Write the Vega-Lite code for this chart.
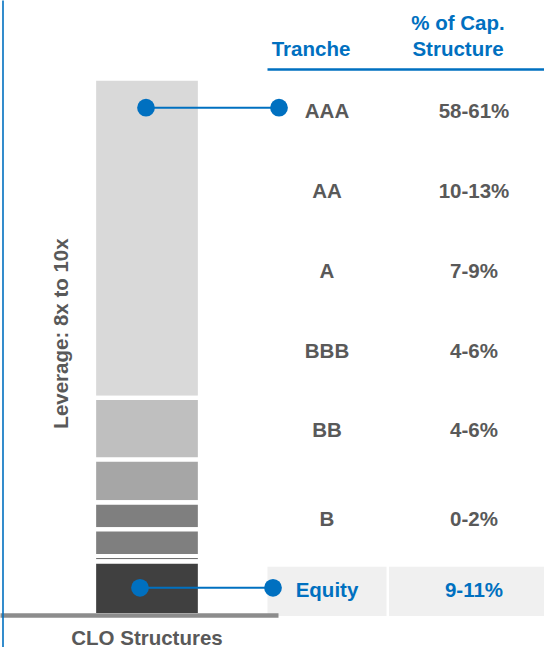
{
  "$schema": "https://vega.github.io/schema/vega-lite/v6.json",
  "width": 544,
  "height": 647,
  "autosize": {"type": "none"},
  "padding": 0,
  "background": "white",
  "config": {"view": {"stroke": null}, "font": "Liberation Sans"},
  "datasets": {
    "tranches": [
      {"tranche": "AAA", "range": "58-61%", "mid": 59.5, "seniority": 1},
      {"tranche": "AA", "range": "10-13%", "mid": 11.5, "seniority": 2},
      {"tranche": "A", "range": "7-9%", "mid": 8, "seniority": 3},
      {"tranche": "BBB", "range": "4-6%", "mid": 5, "seniority": 4},
      {"tranche": "BB", "range": "4-6%", "mid": 5, "seniority": 5},
      {"tranche": "B", "range": "0-2%", "mid": 1, "seniority": 6},
      {"tranche": "Equity", "range": "9-11%", "mid": 10, "seniority": 7}
    ],
    "connectors": [
      {"tranche": "AAA", "end": "segment"},
      {"tranche": "AAA", "end": "label"},
      {"tranche": "Equity", "end": "segment"},
      {"tranche": "Equity", "end": "label"}
    ]
  },
  "layer": [
    {
      "data": {"name": "tranches"},
      "mark": {"type": "bar", "stroke": "white", "strokeWidth": 4.3},
      "encoding": {
        "x": {
          "datum": "CLO Structures", "type": "nominal",
          "scale": {"type": "band", "domain": ["CLO Structures"], "range": [0, 278], "paddingInner": 0, "paddingOuter": 0.8113, "align": 0.5465},
          "axis": {"orient": "bottom", "offset": -32, "title": null, "ticks": false, "tickSize": 0, "domain": true, "domainColor": "#8c8c8c", "domainWidth": 4.3, "domainCap": "butt", "labelPadding": 13, "labelFont": "Liberation Sans", "labelFontSize": 20.5, "labelFontWeight": "bold", "labelColor": "#595959", "labelAngle": 0, "labelLimit": 400, "zindex": 1}
        },
        "y": {
          "field": "mid", "type": "quantitative", "stack": "zero",
          "scale": {"domain": [-5.93, 114.63], "nice": false, "zero": false},
          "axis": {"orient": "left", "offset": -2.5, "grid": false, "ticks": false, "labels": false, "domain": true, "domainColor": "#0070C0", "domainWidth": 1.6, "title": "Leverage: 8x to 10x", "titleFont": "Liberation Sans", "titleFontSize": 20.5, "titleFontWeight": "bold", "titleColor": "#595959", "titleAngle": 270, "titleBaseline": "middle", "titleAlign": "center", "titleX": 59.4, "titleY": 333, "zindex": 1}
        },
        "color": {
          "field": "tranche", "type": "nominal",
          "scale": {"domain": ["AAA", "AA", "A", "BBB", "BB", "B", "Equity"], "range": ["#d9d9d9", "#bfbfbf", "#a6a6a6", "#7f7f7f", "#7f7f7f", "#404040", "#404040"]},
          "legend": null
        },
        "order": {"field": "seniority", "sort": "descending"}
      }
    },
    {
      "data": {"name": "tranches"},
      "layer": [
        {
          "transform": [{"filter": "datum.tranche === 'Equity'"}],
          "mark": {"type": "rect", "color": "#f0f0f0", "width": 119},
          "encoding": {
            "x": {"datum": "Tranche", "type": "nominal",
              "scale": {"type": "band", "domain": ["Tranche", "% of Cap. Structure"], "range": [267, 560], "paddingInner": 0.5, "paddingOuter": 0.2466, "align": 0.3207},
              "axis": {"orient": "top", "offset": -69, "title": null, "ticks": false, "tickSize": 0, "domain": true, "domainColor": "#0070C0", "domainWidth": 2.3, "labelPadding": 35.5, "labelOffset": -16, "labelFont": "Liberation Sans", "labelFontSize": 20.5, "labelFontWeight": "bold", "labelColor": "#0070C0", "labelAngle": 0, "labelLimit": 400, "labelLineHeight": 25.5, "labelOverlap": false, "labelFlush": false, "labelExpr": "datum.value === '% of Cap. Structure' ? ['% of Cap.', 'Structure'] : ['', datum.value]", "zindex": 1}},
            "y": {"field": "tranche", "type": "nominal",
              "scale": {"type": "band", "domain": ["AAA", "AA", "A", "BBB", "BB", "B", "Equity"], "range": [87, 616], "paddingInner": 0.3836, "paddingOuter": 0},
              "axis": null}
          }
        },
        {
          "transform": [{"filter": "datum.tranche === 'Equity'"}],
          "mark": {"type": "rect", "color": "#f0f0f0", "width": 170},
          "encoding": {
            "x": {"datum": "% of Cap. Structure", "type": "nominal",
              "scale": {"type": "band", "domain": ["Tranche", "% of Cap. Structure"], "range": [267, 560], "paddingInner": 0.5, "paddingOuter": 0.2466, "align": 0.3207},
              "axis": {"orient": "top", "offset": -69, "title": null, "ticks": false, "tickSize": 0, "domain": true, "domainColor": "#0070C0", "domainWidth": 2.3, "labelPadding": 35.5, "labelOffset": -16, "labelFont": "Liberation Sans", "labelFontSize": 20.5, "labelFontWeight": "bold", "labelColor": "#0070C0", "labelAngle": 0, "labelLimit": 400, "labelLineHeight": 25.5, "labelOverlap": false, "labelFlush": false, "labelExpr": "datum.value === '% of Cap. Structure' ? ['% of Cap.', 'Structure'] : ['', datum.value]", "zindex": 1}},
            "y": {"field": "tranche", "type": "nominal",
              "scale": {"type": "band", "domain": ["AAA", "AA", "A", "BBB", "BB", "B", "Equity"], "range": [87, 616], "paddingInner": 0.3836, "paddingOuter": 0},
              "axis": null}
          }
        },
        {
          "transform": [{"filter": "datum.tranche !== 'B'"}],
          "mark": {"type": "text", "font": "Liberation Sans", "fontSize": 20.5, "fontWeight": "bold", "baseline": "middle", "align": "center"},
          "encoding": {
            "x": {"datum": "Tranche", "type": "nominal",
              "scale": {"type": "band", "domain": ["Tranche", "% of Cap. Structure"], "range": [267, 560], "paddingInner": 0.5, "paddingOuter": 0.2466, "align": 0.3207},
              "axis": {"orient": "top", "offset": -69, "title": null, "ticks": false, "tickSize": 0, "domain": true, "domainColor": "#0070C0", "domainWidth": 2.3, "labelPadding": 35.5, "labelOffset": -16, "labelFont": "Liberation Sans", "labelFontSize": 20.5, "labelFontWeight": "bold", "labelColor": "#0070C0", "labelAngle": 0, "labelLimit": 400, "labelLineHeight": 25.5, "labelOverlap": false, "labelFlush": false, "labelExpr": "datum.value === '% of Cap. Structure' ? ['% of Cap.', 'Structure'] : ['', datum.value]", "zindex": 1}},
            "y": {"field": "tranche", "type": "nominal", "bandPosition": 0.5,
              "scale": {"type": "band", "domain": ["AAA", "AA", "A", "BBB", "BB", "B", "Equity"], "range": [87, 616], "paddingInner": 0.3836, "paddingOuter": 0},
              "axis": null},
            "text": {"field": "tranche"},
            "color": {"condition": {"test": "datum.tranche === 'Equity'", "value": "#0070C0"}, "value": "#595959"}
          }
        },
        {
          "transform": [{"filter": "datum.tranche === 'B'"}],
          "mark": {"type": "text", "font": "Liberation Sans", "fontSize": 20.5, "fontWeight": "bold", "baseline": "middle", "align": "center", "dy": 9},
          "encoding": {
            "x": {"datum": "Tranche", "type": "nominal",
              "scale": {"type": "band", "domain": ["Tranche", "% of Cap. Structure"], "range": [267, 560], "paddingInner": 0.5, "paddingOuter": 0.2466, "align": 0.3207},
              "axis": {"orient": "top", "offset": -69, "title": null, "ticks": false, "tickSize": 0, "domain": true, "domainColor": "#0070C0", "domainWidth": 2.3, "labelPadding": 35.5, "labelOffset": -16, "labelFont": "Liberation Sans", "labelFontSize": 20.5, "labelFontWeight": "bold", "labelColor": "#0070C0", "labelAngle": 0, "labelLimit": 400, "labelLineHeight": 25.5, "labelOverlap": false, "labelFlush": false, "labelExpr": "datum.value === '% of Cap. Structure' ? ['% of Cap.', 'Structure'] : ['', datum.value]", "zindex": 1}},
            "y": {"field": "tranche", "type": "nominal", "bandPosition": 0.5,
              "scale": {"type": "band", "domain": ["AAA", "AA", "A", "BBB", "BB", "B", "Equity"], "range": [87, 616], "paddingInner": 0.3836, "paddingOuter": 0},
              "axis": null},
            "text": {"field": "tranche"},
            "color": {"value": "#595959"}
          }
        },
        {
          "transform": [{"filter": "datum.tranche !== 'B'"}],
          "mark": {"type": "text", "font": "Liberation Sans", "fontSize": 20.5, "fontWeight": "bold", "baseline": "middle", "align": "center"},
          "encoding": {
            "x": {"datum": "% of Cap. Structure", "type": "nominal",
              "scale": {"type": "band", "domain": ["Tranche", "% of Cap. Structure"], "range": [267, 560], "paddingInner": 0.5, "paddingOuter": 0.2466, "align": 0.3207},
              "axis": {"orient": "top", "offset": -69, "title": null, "ticks": false, "tickSize": 0, "domain": true, "domainColor": "#0070C0", "domainWidth": 2.3, "labelPadding": 35.5, "labelOffset": -16, "labelFont": "Liberation Sans", "labelFontSize": 20.5, "labelFontWeight": "bold", "labelColor": "#0070C0", "labelAngle": 0, "labelLimit": 400, "labelLineHeight": 25.5, "labelOverlap": false, "labelFlush": false, "labelExpr": "datum.value === '% of Cap. Structure' ? ['% of Cap.', 'Structure'] : ['', datum.value]", "zindex": 1}},
            "y": {"field": "tranche", "type": "nominal", "bandPosition": 0.5,
              "scale": {"type": "band", "domain": ["AAA", "AA", "A", "BBB", "BB", "B", "Equity"], "range": [87, 616], "paddingInner": 0.3836, "paddingOuter": 0},
              "axis": null},
            "text": {"field": "range"},
            "color": {"condition": {"test": "datum.tranche === 'Equity'", "value": "#0070C0"}, "value": "#595959"}
          }
        },
        {
          "transform": [{"filter": "datum.tranche === 'B'"}],
          "mark": {"type": "text", "font": "Liberation Sans", "fontSize": 20.5, "fontWeight": "bold", "baseline": "middle", "align": "center", "dy": 9},
          "encoding": {
            "x": {"datum": "% of Cap. Structure", "type": "nominal",
              "scale": {"type": "band", "domain": ["Tranche", "% of Cap. Structure"], "range": [267, 560], "paddingInner": 0.5, "paddingOuter": 0.2466, "align": 0.3207},
              "axis": {"orient": "top", "offset": -69, "title": null, "ticks": false, "tickSize": 0, "domain": true, "domainColor": "#0070C0", "domainWidth": 2.3, "labelPadding": 35.5, "labelOffset": -16, "labelFont": "Liberation Sans", "labelFontSize": 20.5, "labelFontWeight": "bold", "labelColor": "#0070C0", "labelAngle": 0, "labelLimit": 400, "labelLineHeight": 25.5, "labelOverlap": false, "labelFlush": false, "labelExpr": "datum.value === '% of Cap. Structure' ? ['% of Cap.', 'Structure'] : ['', datum.value]", "zindex": 1}},
            "y": {"field": "tranche", "type": "nominal", "bandPosition": 0.5,
              "scale": {"type": "band", "domain": ["AAA", "AA", "A", "BBB", "BB", "B", "Equity"], "range": [87, 616], "paddingInner": 0.3836, "paddingOuter": 0},
              "axis": null},
            "text": {"field": "range"},
            "color": {"value": "#595959"}
          }
        }
      ]
    },
    {
      "data": {"name": "connectors"},
      "encoding": {
        "x": {"field": "end", "type": "nominal", "scale": {"type": "point", "domain": ["segment", "label"], "range": [146, 279], "padding": 0}, "axis": null},
        "y": {"field": "tranche", "type": "nominal", "bandPosition": 0.5,
          "scale": {"type": "band", "domain": ["AAA", "AA", "A", "BBB", "BB", "B", "Equity"], "range": [87, 616], "paddingInner": 0.3836, "paddingOuter": 0},
          "axis": null}
      },
      "layer": [
        {"transform": [{"filter": "datum.tranche === 'AAA'"}], "mark": {"type": "line", "color": "#0070C0", "strokeWidth": 2, "yOffset": -4}},
        {"transform": [{"filter": "datum.tranche === 'AAA'"}], "mark": {"type": "circle", "color": "#0070C0", "opacity": 1, "size": 314, "yOffset": -4}},
        {"transform": [{"filter": "datum.tranche === 'Equity'"}], "mark": {"type": "line", "color": "#0070C0", "strokeWidth": 2, "xOffset": -6, "yOffset": -3.5}},
        {"transform": [{"filter": "datum.tranche === 'Equity'"}], "mark": {"type": "circle", "color": "#0070C0", "opacity": 1, "size": 314, "xOffset": -6, "yOffset": -3.5}}
      ]
    }
  ],
  "resolve": {"scale": {"x": "independent", "y": "independent", "color": "independent"}, "axis": {"x": "independent", "y": "independent"}}
}
